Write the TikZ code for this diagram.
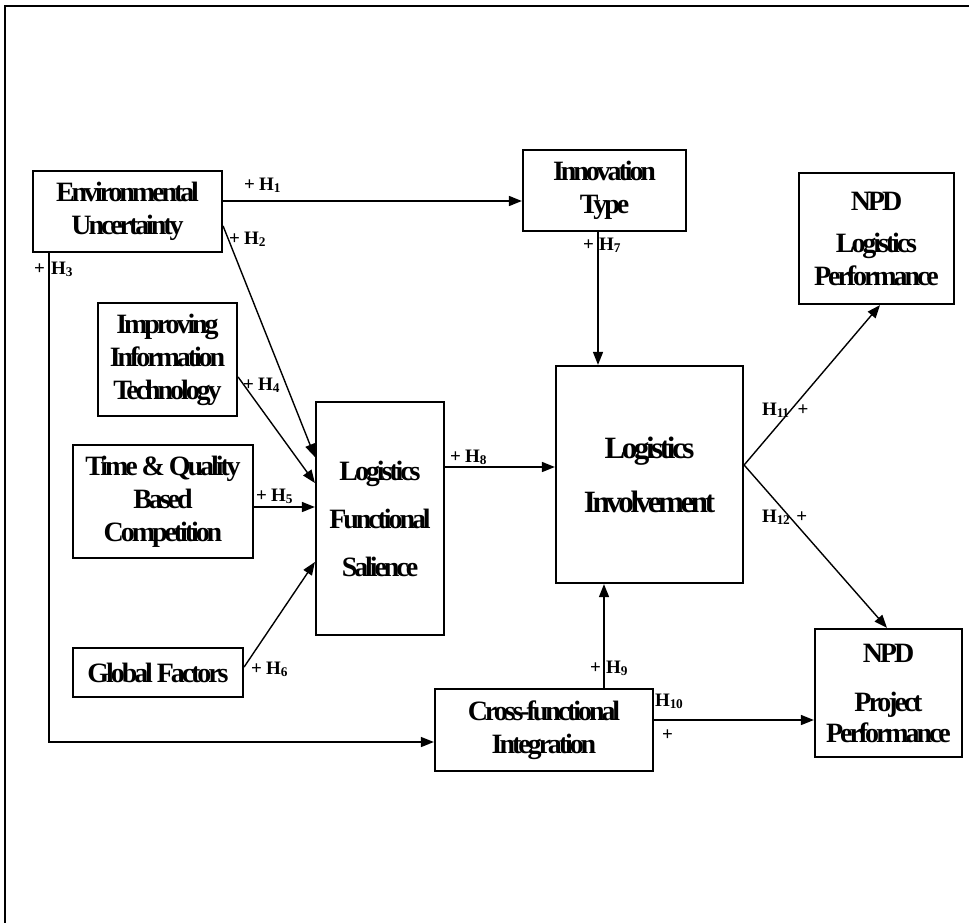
\documentclass[tikz,border=0pt]{standalone}
\usepackage{fontspec}
\setmainfont{Liberation Serif}[LetterSpace=-11]
\newfontfamily\labfont{Liberation Serif}[LetterSpace=-4]
\usetikzlibrary{arrows.meta}

\newcommand\hyp[1]{H\textsubscript{#1}}

\begin{document}
\begin{tikzpicture}[x=1pt,y=-1pt,
  box/.style={draw, line width=2.2pt, inner sep=0pt, align=center,
              font=\fontsize{28}{33}\selectfont\bfseries},
  arr/.style={line width=1.4pt, -{Triangle[length=13pt,width=10pt]}},
  lab/.style={inner sep=0pt, font=\labfont\fontsize{19}{19}\selectfont\bfseries}]

\useasboundingbox (0,0) rectangle (969,923);

% outer frame (left and top edges)
\draw[line width=2pt] (5,923) -- (5,6) -- (969,6);

% constructs
\node[box, minimum width=189pt, minimum height=81pt] (env) at (127.5,211.5)
  {Environmental\\Uncertainty};
\node[box, minimum width=163pt, minimum height=81pt] (innov) at (604.5,190.5)
  {Innovation\\Type};
\node[box, minimum width=155pt, minimum height=131pt] (npdlog) at (876.5,238.5)
  {NPD\\[9pt]Logistics\\Performance};
\node[box, minimum width=139pt, minimum height=113pt] (iit) at (167.5,359.5)
  {Improving\\Information\\Technology};
\node[box, minimum width=180pt, minimum height=113pt] (tq) at (163,501.5)
  {Time \& Quality\\Based\\Competition};
\node[box, minimum width=128pt, minimum height=233pt,
      font=\fontsize{28}{48}\selectfont\bfseries] (lfs) at (380,518.5)
  {Logistics\\Functional\\Salience};
\node[box, minimum width=170pt, minimum height=49pt] (gf) at (158,672.5)
  {Global Factors};
\node[box, minimum width=187pt, minimum height=217pt,
      font=\fontsize{31}{54}\selectfont\bfseries] (li) at (649.5,474.5)
  {Logistics\\Involvement};
\node[box, minimum width=218pt, minimum height=82pt] (cfi) at (544,730)
  {Cross-functional\\Integration};
\node[box, minimum width=147pt, minimum height=128pt,
      font=\fontsize{28}{31}\selectfont\bfseries] (npdproj) at (888.5,693)
  {NPD\\[18pt]Project\\Performance};

% hypothesised paths
\draw[arr] (env.east |- 0,201) -- (innov.west |- 0,201);
\draw[arr] (env.east |- 0,226) -- (lfs.west |- 0,457);
\draw[arr] (env.south -| 49,0) |- (cfi.west |- 0,742);
\draw[arr] (iit.east |- 0,377) -- (lfs.west |- 0,483);
\draw[arr] (tq.east |- 0,507) -- (lfs.west |- 0,507);
\draw[arr] (gf.east |- 0,667) -- (lfs.west |- 0,562);
\draw[arr] (innov.south -| 598,0) -- (li.north -| 598,0);
\draw[arr] (lfs.east |- 0,467) -- (li.west |- 0,467);
\draw[arr] (cfi.north -| 604,0) -- (li.south -| 604,0);
\draw[arr] (cfi.east |- 0,720) -- (npdproj.west |- 0,720);
\draw[arr] (li.east |- 0,465) -- (npdlog.south -| 880,0);
\draw[arr] (li.east |- 0,465) -- (npdproj.north -| 887,0);

% path labels
\node[lab, anchor=base west] (l1) at (244,190) {+ \hyp{1}};
\node[lab, anchor=base west] (l2) at (229,244) {+ \hyp{2}};
\node[lab, anchor=base west] (l3) at (34,274) {+\hspace{6pt}\hyp{3}};
\node[lab, anchor=base west] (l4) at (243,390) {+ \hyp{4}};
\node[lab, anchor=base west] (l5) at (256,501) {+ \hyp{5}};
\node[lab, anchor=base west] (l6) at (251,674) {+ \hyp{6}};
\node[lab, anchor=base west] (l7) at (583,250) {+\hspace{5pt}\hyp{7}};
\node[lab, anchor=base west] (l8) at (450,462) {+ \hyp{8}};
\node[lab, anchor=base west] (l9) at (590,673) {+\hspace{5pt}\hyp{9}};
\node[lab, anchor=base west] (l10) at (655,706) {\hyp{10}};
\node[lab, anchor=base west] (l10p) at (662,740) {+};
\node[lab, anchor=base west] (l11) at (762,415) {\hyp{11}\hspace{8pt}+};
\node[lab, anchor=base west] (l12) at (762,522) {\hyp{12}\hspace{6pt}+};

\end{tikzpicture}
\end{document}
